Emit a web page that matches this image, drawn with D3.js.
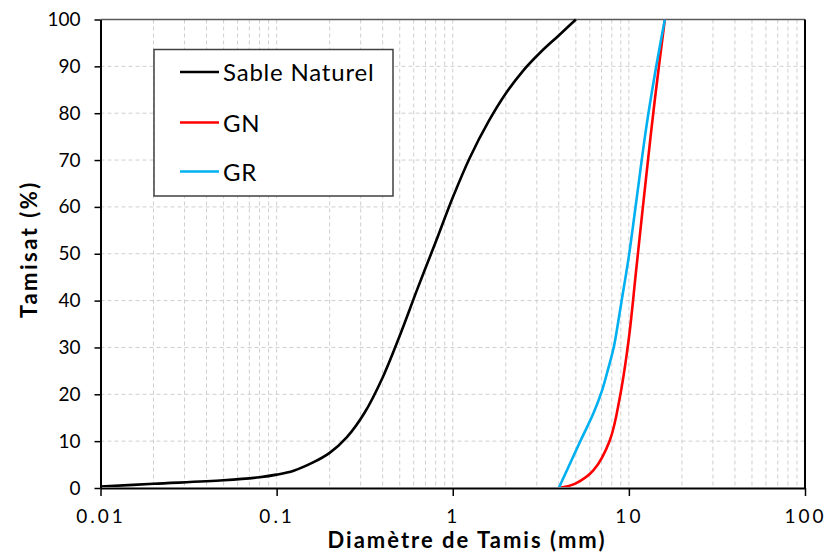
<!DOCTYPE html>
<html>
<head>
<meta charset="utf-8">
<script src="https://cdn.jsdelivr.net/npm/d3@7"></script>
<style>
  html, body { margin: 0; padding: 0; background: #fff; }
  svg { display: block; }
  text { font-family: Lato, "Open Sans", "Liberation Sans", sans-serif; fill: #000; }
</style>
</head>
<body>
<svg id="chart" width="827" height="553"></svg>
<script>
// ---- data ----
const sableSizes  = [0.01, 0.02, 0.05, 0.08, 0.1, 0.125, 0.16, 0.2, 0.25, 0.315, 0.4, 0.5, 0.63, 0.8, 1, 1.25, 1.6, 2, 2.5, 3.15, 4, 5];
const sableValues = [0.3, 0.9, 1.65, 2.3, 2.85, 3.7, 5.4, 7.5, 10.8, 16, 23.6, 32.5, 42.5, 52.5, 62, 70.5, 78.3, 84.2, 89, 93, 96.6, 100];
const gnSizes     = [4, 5, 6.3, 7.8, 8.9, 10, 11, 12.5, 14, 16];
const gnValues    = [0, 1, 3.8, 10.2, 19.5, 32, 46.5, 66, 82.5, 100];
const grSizes     = [4, 5.3, 6.3, 7, 7.6, 8.2, 8.6, 9.1, 10, 11, 12.5, 14, 16];
const grValues    = [0, 10, 16, 20.5, 25.2, 30, 34.3, 40, 49.5, 61, 76.5, 88, 100];
const seriesNames = ["Sable Naturel", "GN", "GR"];
const seriesColors = ["#000000", "#FF0000", "#00B0F0"];
const xTickValues = [0.01, 0.1, 1, 10, 100];
const xTickLabels = ["0.01", "0.1", "1", "10", "100"];
const yTickValues = [0, 10, 20, 30, 40, 50, 60, 70, 80, 90, 100];
const xTitle = "Diamètre de Tamis (mm)";
const yTitle = "Tamisat (%)";

// ---- layout ----
const plot = { left: 100.5, right: 805, top: 19.5, bottom: 488 };
const svg = d3.select("#chart");

const x = d3.scaleLog().domain([0.01, 100]).range([plot.left, plot.right]);
const y = d3.scaleLinear().domain([0, 100]).range([plot.bottom, plot.top]);

// minor + major vertical grid values
const gridX = [];
for (let e = -2; e < 2; e++) {
  for (let m = 1; m <= 9; m++) gridX.push(m * Math.pow(10, e));
}

const grid = svg.append("g").attr("class", "grid");
grid.selectAll("line.v").data(gridX.filter(v => v > 0.01)).join("line")
  .attr("class", "v")
  .attr("x1", d => x(d)).attr("x2", d => x(d))
  .attr("y1", plot.top).attr("y2", plot.bottom)
  .attr("stroke", "#cfcfcf").attr("stroke-width", 1).attr("stroke-dasharray", "4,3");
grid.selectAll("line.h").data(yTickValues.filter(v => v > 0 && v < 100)).join("line")
  .attr("class", "h")
  .attr("x1", plot.left).attr("x2", plot.right)
  .attr("y1", d => y(d)).attr("y2", d => y(d))
  .attr("stroke", "#cfcfcf").attr("stroke-width", 1).attr("stroke-dasharray", "4,3");

// plot border (top lighter, right black)
svg.append("line").attr("x1", plot.left).attr("x2", plot.right).attr("y1", plot.top).attr("y2", plot.top)
  .attr("stroke", "#595959").attr("stroke-width", 1.5);
svg.append("line").attr("x1", plot.right).attr("x2", plot.right).attr("y1", plot.top).attr("y2", plot.bottom)
  .attr("stroke", "#000").attr("stroke-width", 2);

// axes
const xAxis = d3.axisBottom(x).tickValues(xTickValues)
  .tickFormat((d, i) => xTickLabels[i]).tickSizeInner(8).tickSizeOuter(0).tickPadding(14);
const gx = svg.append("g").attr("transform", `translate(0,${plot.bottom})`).call(xAxis);
gx.select(".domain").attr("stroke", "#000").attr("stroke-width", 2);
gx.selectAll(".tick line").attr("stroke", "#000").attr("stroke-width", 1.5);
gx.selectAll(".tick text").attr("font-size", 19).attr("letter-spacing", "3px")
  .attr("font-family", "Lato, 'Open Sans', sans-serif").attr("fill", "#000");

const yAxis = d3.axisLeft(y).tickValues(yTickValues).tickSizeInner(6).tickSizeOuter(0).tickPadding(14);
const gy = svg.append("g").attr("transform", `translate(${plot.left},0)`).call(yAxis);
gy.select(".domain").attr("stroke", "#000").attr("stroke-width", 2);
gy.selectAll(".tick line").attr("stroke", "#000").attr("stroke-width", 1.5);
gy.selectAll(".tick text").attr("font-size", 19)
  .attr("font-family", "Lato, 'Open Sans', sans-serif").attr("fill", "#000");

// series
const series = [
  { sizes: sableSizes, values: sableValues },
  { sizes: gnSizes, values: gnValues },
  { sizes: grSizes, values: grValues }
];
const line = d3.line().x(d => x(d[0])).y(d => y(d[1])).curve(d3.curveCatmullRom.alpha(0.5));
svg.append("clipPath").attr("id", "clip").append("rect")
  .attr("x", plot.left).attr("y", plot.top - 2).attr("width", plot.right - plot.left).attr("height", plot.bottom - plot.top + 1);
svg.append("g").attr("clip-path", "url(#clip)")
  .selectAll("path").data(series).join("path")
  .attr("d", s => line(s.sizes.map((v, i) => [v, s.values[i]])))
  .attr("fill", "none")
  .attr("stroke", (s, i) => seriesColors[i])
  .attr("stroke-width", 2.6)
  .attr("stroke-linejoin", "round");

// legend
const lg = svg.append("g");
lg.append("rect").attr("x", 154).attr("y", 49.5).attr("width", 239).attr("height", 146.5)
  .attr("fill", "#fff").attr("stroke", "#404040").attr("stroke-width", 1.5);
const rows = [72, 122.5, 171.5];
seriesNames.forEach((name, i) => {
  lg.append("line").attr("x1", 180).attr("x2", 219).attr("y1", rows[i]).attr("y2", rows[i])
    .attr("stroke", seriesColors[i]).attr("stroke-width", 2.6);
  lg.append("text").attr("x", 223).attr("y", rows[i] + 9).attr("font-size", 24)
    .attr("letter-spacing", "0.8px").text(name);
});

// axis titles
svg.append("text").attr("x", 467).attr("y", 548).attr("text-anchor", "middle")
  .attr("font-size", 22).attr("font-weight", "bold").attr("letter-spacing", "2px").text(xTitle);
svg.append("text").attr("transform", "translate(37,249) rotate(-90)").attr("text-anchor", "middle")
  .attr("font-size", 22).attr("font-weight", "bold").attr("letter-spacing", "2.5px").text(yTitle);
</script>
</body>
</html>
